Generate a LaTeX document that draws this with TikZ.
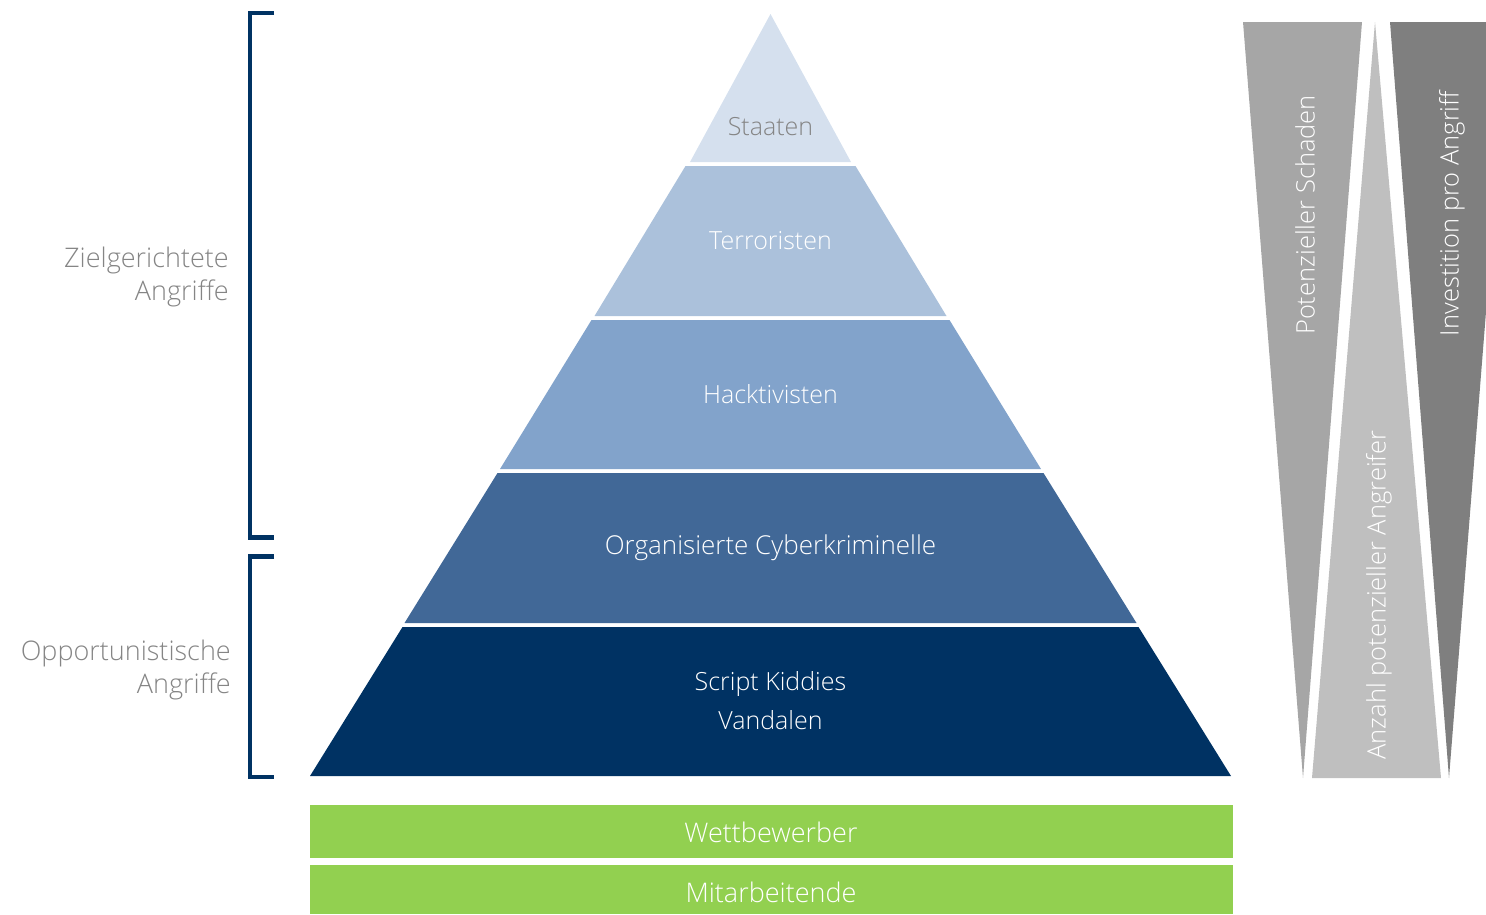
\documentclass[tikz,border=0pt]{standalone}
\usepackage{fontspec}
\setmainfont{Open Sans}[UprightFont=* Light]
\definecolor{cStaat}{HTML}{D5E0EE}
\definecolor{cTerr}{HTML}{ABC1DB}
\definecolor{cHack}{HTML}{82A3CB}
\definecolor{cOrg}{HTML}{416897}
\definecolor{cScript}{HTML}{003263}
\definecolor{cGreen}{HTML}{92D050}
\definecolor{cNavy}{HTML}{003263}
\definecolor{cTxt}{HTML}{858585}
\definecolor{gMid}{HTML}{A6A6A6}
\definecolor{gLight}{HTML}{BFBFBF}
\definecolor{gDark}{HTML}{7F7F7F}
\tikzset{
  lbl/.style={font=\fontsize{25}{39}\selectfont, text=white, inner sep=0pt, align=center},
  side/.style={font=\fontsize{27}{33}\selectfont, text=cTxt, inner sep=0pt, align=right, anchor=east},
  bar/.style={fill=cGreen, draw=none},
  brack/.style={draw=cNavy, line width=4.5pt},
  vlbl/.style={font=\fontsize{25.5}{26}\selectfont, text=white, inner sep=0pt, rotate=90}
}
\begin{document}
\begin{tikzpicture}[x=1pt,y=-1pt]
\useasboundingbox (0,0) rectangle (1486,914);
\begin{scope}
\clip (0,0) rectangle (1486,914);
% pyramid layers
\fill[cStaat] (770.5,14) -- (851,162) -- (690,162) -- cycle;
\fill[cTerr] (685.5,166) -- (855.5,166) -- (946.5,316) -- (594.5,316) -- cycle;
\fill[cHack] (591.5,320) -- (949.5,320) -- (1041,469) -- (500,469) -- cycle;
\fill[cOrg] (497.5,473) -- (1043.5,473) -- (1136.5,623) -- (404.5,623) -- cycle;
\fill[cScript] (402.5,627) -- (1138.5,627) -- (1231,776) -- (310,776) -- cycle;
% green bars
\fill[bar] (310,805) rectangle (1233,858);
\fill[bar] (310,865) rectangle (1233,913.5);
% right triangles
\fill[gMid] (1243,22) -- (1362,22) -- (1303,778) -- cycle;
\fill[gLight] (1375,22) -- (1441,778) -- (1312,778) -- cycle;
\fill[gDark] (1390,22) -- (1509,22) -- (1449,778) -- cycle;
\end{scope}
% brackets
\coordinate (b1a) at (274,13);
\coordinate (b1b) at (274,537.5);
\coordinate (b2a) at (274,556.5);
\coordinate (b2b) at (274,777);
\draw[brack] (b1a) -- (250,13) -- (250,537.5) -- (b1b);
\draw[brack] (b2a) -- (250,556.5) -- (250,777) -- (b2b);
% labels
\node[lbl, text=cTxt] (staaten) at (770.5,127) {Staaten};
\node[lbl] (terr) at (770.5,241) {Terroristen};
\node[lbl] (hack) at (770.5,394) {Hacktivisten};
\node[lbl, font=\fontsize{26}{39}\selectfont] (org) at (770.5,548) {Organisierte Cyberkriminelle};
\node[lbl] (script) at (770.5,701) {Script Kiddies\\Vandalen};
\node[lbl, font=\fontsize{27}{30}\selectfont] (wett) at (771,832) {Wettbewerber};
\node[lbl, font=\fontsize{27}{30}\selectfont] (mit) at (771,892.5) {Mitarbeitende};
\node[side] (ziel) at (229,277) {Zielgerichtete\\Angriffe};
\node[side] (opp) at (231,669.5) {Opportunistische\\Angriffe};
\node[vlbl] (schaden) at (1305,215) {Potenzieller Schaden};
\node[vlbl] (anzahl) at (1379,595) {Anzahl potenzieller Angreifer};
\node[vlbl] (invest) at (1452,213.5) {Investition pro Angriff};
\end{tikzpicture}
\end{document}
